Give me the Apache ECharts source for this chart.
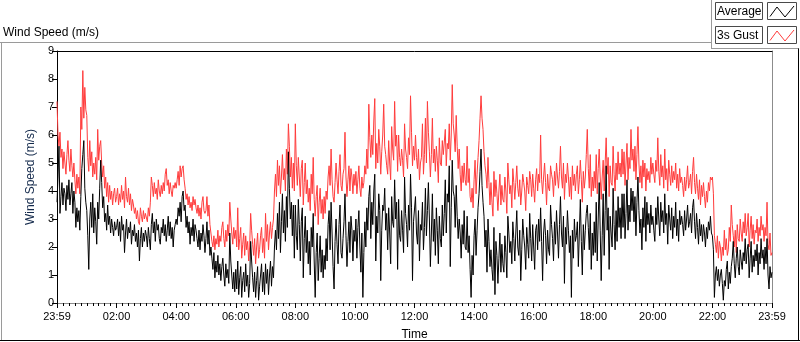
<!DOCTYPE html>
<html>
<head>
<meta charset="utf-8">
<script src="https://cdn.jsdelivr.net/npm/echarts@6/dist/echarts.min.js"></script>
<style>
  html, body { margin: 0; padding: 0; background: #fff; }
  #chart { width: 800px; height: 342px; }
</style>
</head>
<body>
<div id="chart"></div>
<script>
// one sample every 2 minutes, starting at 23:59 the day before
const sampleMinutes = 2

// average wind speed, m/s, 30 samples per hour
const avgSpeed = [
  3.6, 4.5, 5.6, 3.2, 3.8, 4.3, 3.5, 4.1, 3.9, 3.3, 4.2, 3.7, 4.4, 3.5, 3.9, 4.3, 3.2, 4.0, 3.6, 2.7, 3.4, 2.9, 3.3, 2.6, 3.8, 4.8, 5.3, 5.8, 4.1, 3.6,
  3.3, 2.4, 1.2, 3.0, 3.6, 2.7, 3.9, 2.5, 3.4, 2.9, 2.1, 3.6, 3.0, 4.1, 5.1, 4.3, 3.4, 3.8, 2.9, 3.2, 2.6, 3.5, 2.8, 3.1, 2.5, 3.0, 2.7, 2.4, 2.9, 2.6,
  2.7, 3.0, 2.4, 2.9, 2.2, 3.1, 2.6, 2.8, 1.8, 2.5, 3.0, 2.3, 2.7, 2.5, 2.9, 2.1, 2.6, 2.4, 2.8, 2.2, 2.5, 2.0, 2.6, 1.5, 2.3, 2.7, 2.0, 2.5, 2.2, 2.6,
  2.4, 2.0, 2.7, 2.3, 1.9, 2.8, 3.2, 2.5, 2.9, 2.2, 3.0, 2.6, 2.8, 2.3, 2.1, 2.7, 2.5, 3.0, 2.4, 2.8, 2.2, 2.6, 3.1, 2.4, 2.9, 2.3, 2.7, 2.0, 2.6, 2.8,
  3.0, 2.8, 3.4, 3.1, 3.6, 2.9, 3.8, 4.0, 3.3, 3.5, 2.7, 3.1, 2.5, 2.9, 2.1, 2.7, 2.4, 3.0, 2.2, 2.8, 2.6, 2.3, 2.0, 2.6, 1.9, 2.5, 2.2, 2.8, 2.4, 1.8,
  2.3, 2.9, 2.1, 2.6, 1.7, 2.0, 1.6, 1.2, 1.8, 0.9, 1.5, 1.1, 1.7, 1.0, 1.4, 0.8, 1.3, 1.6, 1.0, 0.6, 1.4, 0.9, 1.2, 0.7, 2.5, 1.5, 1.0, 0.5, 1.1, 0.4,
  1.2, 0.5, 1.5, 0.3, 0.9, 1.3, 0.2, 0.8, 1.1, 0.4, 1.4, 0.6, 1.0, 0.2, 0.7, 2.2, 1.5, 0.9, 0.4, 1.1, 0.2, 0.8, 1.3, 0.1, 0.6, 1.0, 1.4, 0.4, 1.1, 0.3,
  1.4, 0.7, 1.2, 0.3, 1.0, 1.5, 0.6, 1.3, 0.9, 2.0, 2.6, 1.9, 3.2, 2.3, 3.6, 1.8, 2.9, 3.9, 2.5, 3.3, 2.2, 3.8, 2.7, 5.4, 4.1, 3.0, 3.6, 2.4, 3.5, 1.6,
  3.5, 2.4, 1.9, 3.7, 2.8, 1.5, 2.9, 3.4, 0.9, 2.3, 3.1, 1.8, 2.6, 1.4, 2.2, 1.0, 2.7, 2.0, 3.2, 1.5, 0.2, 1.8, 2.5, 0.8, 1.6, 2.4, 1.1, 1.9, 0.9, 1.7,
  1.2, 2.3, 1.5, 2.8, 3.3, 1.9, 3.6, 2.5, 1.3, 0.5, 2.2, 3.0, 2.1, 1.4, 2.8, 3.5, 1.8, 1.6, 2.3, 2.9, 3.9, 2.4, 1.3, 2.2, 2.9, 1.8, 3.1, 2.6, 1.5, 2.6,
  2.2, 3.0, 1.6, 2.7, 3.3, 2.0, 1.1, 2.5, 0.2, 1.8, 2.9, 2.0, 3.4, 2.6, 3.8, 4.2, 2.3, 3.6, 2.8, 4.0, 4.6, 1.5, 3.1, 2.5, 3.9, 3.3, 0.8, 2.6, 3.5, 3.3,
  4.1, 2.6, 3.2, 1.9, 3.4, 2.5, 1.4, 3.8, 2.9, 2.7, 4.4, 3.0, 3.6, 1.2, 3.7, 2.4, 2.2, 3.3, 2.6, 1.8, 4.5, 3.2, 2.8, 2.0, 3.5, 2.6, 4.6, 3.4, 0.8, 2.9,
  2.9, 3.8, 2.5, 2.1, 3.3, 1.5, 2.8, 2.6, 3.6, 1.9, 2.7, 4.1, 2.4, 3.3, 4.3, 3.0, 1.3, 2.5, 3.9, 2.2, 3.0, 1.7, 3.4, 2.6, 1.4, 3.1, 2.3, 2.0, 3.5, 2.4,
  3.2, 4.4, 2.5, 3.9, 3.6, 4.9, 1.3, 3.4, 5.1, 4.0, 3.8, 2.7, 4.2, 3.1, 2.3, 3.0, 2.5, 1.6, 2.8, 2.1, 3.3, 2.0, 1.9, 3.1, 1.8, 2.4, 1.2, 0.2, 1.7, 1.0,
  2.4, 3.0, 1.7, 2.6, 3.4, 3.9, 4.7, 5.5, 4.2, 3.6, 3.1, 2.0, 2.6, 1.1, 3.0, 2.2, 1.3, 1.9, 1.2, 0.8, 2.7, 0.3, 2.2, 1.7, 0.7, 1.6, 2.5, 1.1, 2.1, 1.4,
  1.1, 2.4, 1.8, 0.9, 3.1, 2.5, 1.8, 2.2, 1.4, 2.9, 2.3, 1.5, 2.5, 3.3, 2.0, 1.7, 2.6, 0.8, 1.9, 3.0, 2.4, 2.0, 1.2, 2.7, 2.1, 1.6, 3.2, 2.3, 1.5, 2.8,
  2.0, 1.2, 2.6, 2.8, 1.9, 3.0, 2.2, 3.4, 2.2, 0.8, 2.5, 3.0, 2.4, 1.4, 2.6, 1.9, 1.7, 3.5, 2.8, 2.3, 1.5, 2.9, 2.1, 3.3, 2.5, 1.6, 2.8, 3.8, 2.5, 2.0,
  3.1, 0.7, 2.7, 2.1, 3.3, 2.6, 1.8, 2.4, 0.2, 2.6, 1.6, 3.0, 2.2, 2.4, 2.9, 1.3, 2.5, 3.7, 2.2, 1.0, 2.8, 1.9, 2.6, 3.2, 3.5, 2.7, 1.9, 3.2, 1.2, 2.5,
  1.7, 2.9, 1.8, 3.6, 1.5, 3.0, 4.3, 2.6, 0.8, 2.4, 3.9, 1.7, 3.3, 4.9, 2.6, 3.4, 1.2, 3.1, 2.5, 2.0, 4.1, 2.8, 1.9, 3.3, 2.2, 3.8, 2.7, 3.4, 2.3, 3.9,
  2.7, 3.9, 2.3, 3.2, 4.4, 2.6, 3.5, 2.9, 4.1, 3.3, 4.0, 2.9, 3.8, 2.4, 3.6, 4.5, 3.3, 2.5, 3.0, 1.9, 3.4, 2.7, 3.8, 2.2, 3.6, 2.8, 3.2, 2.5, 3.5, 2.8,
  3.1, 2.6, 2.2, 3.4, 2.8, 3.8, 3.0, 2.4, 3.6, 2.9, 3.3, 2.5, 3.9, 2.8, 3.2, 2.1, 3.5, 3.0, 2.6, 3.4, 2.3, 3.1, 2.7, 3.6, 2.4, 3.0, 2.2, 3.3, 2.8, 3.1,
  2.8, 2.4, 3.3, 2.6, 3.0, 3.5, 2.7, 2.9, 3.2, 2.5, 3.4, 3.7, 2.9, 2.3, 3.2, 2.7, 2.1, 3.0, 2.4, 2.8, 2.2, 2.8, 2.5, 2.0, 2.7, 2.3, 2.9, 2.6, 3.1, 2.5,
  2.4, 1.9, 0.2, 1.0, 1.3, 0.8, 1.2, 0.6, 1.0, 1.2, 0.7, 0.1, 0.8, 0.6, 1.2, 1.5, 0.5, 1.1, 0.7, 1.3, 1.6, 2.2, 1.4, 0.9, 1.6, 2.0, 1.3, 1.0, 1.9, 1.5,
  1.2, 1.8, 1.5, 2.3, 1.4, 1.9, 2.1, 0.9, 1.6, 2.2, 1.1, 1.7, 1.3, 1.9, 1.5, 2.1, 1.0, 1.8, 1.4, 2.3, 1.6, 1.9, 1.2, 2.0, 1.4, 2.3, 1.0, 0.5, 1.3, 0.9,
  1.1
]

// 3 second gust, m/s, 30 samples per hour
const gustSpeed = [
  7.2, 6.0, 5.6, 6.1, 5.2, 5.5, 4.8, 5.4, 5.0, 4.6, 5.3, 5.8, 5.1, 4.7, 5.5, 4.9, 4.5, 5.0, 4.4, 3.9, 4.6, 4.1, 4.5, 3.9, 7.0, 6.2, 8.3, 6.6, 7.7, 6.9,
  6.7, 5.2, 4.7, 5.8, 4.9, 5.4, 4.5, 5.0, 4.6, 5.2, 4.4, 6.2, 5.1, 5.6, 5.8, 5.0, 4.5, 4.9, 4.1, 4.5, 3.8, 4.3, 3.6, 4.2, 3.7, 4.0, 3.5, 3.9, 4.1, 3.6,
  3.8, 4.1, 3.5, 3.9, 3.6, 4.2, 3.7, 4.0, 3.4, 4.5, 3.8, 3.6, 4.1, 3.5, 3.9, 3.3, 3.7, 3.5, 3.2, 3.4, 3.0, 3.3, 2.9, 2.8, 3.4, 3.1, 2.9, 3.3, 3.0, 3.2,
  3.2, 2.9, 3.4, 3.1, 3.6, 4.5, 4.2, 3.8, 4.3, 3.9, 4.1, 3.7, 4.4, 4.0, 3.8, 4.2, 3.9, 4.3, 4.0, 4.6, 4.8, 4.2, 4.4, 3.9, 4.3, 4.0, 3.8, 4.2, 4.1, 4.3,
  4.1, 4.4, 4.7, 4.2, 4.9, 4.5, 4.8, 4.9, 4.4, 4.1, 3.7, 3.9, 3.5, 3.8, 3.4, 3.6, 3.3, 3.8, 3.5, 3.7, 3.4, 3.2, 3.5, 3.1, 3.4, 3.0, 3.6, 3.8, 3.3, 3.2,
  3.3, 3.8, 3.1, 3.5, 2.8, 2.5, 2.2, 2.0, 2.4, 1.9, 2.3, 2.1, 2.6, 2.0, 2.4, 2.2, 2.7, 2.9, 2.3, 2.0, 2.6, 2.2, 2.8, 2.4, 3.6, 3.0, 2.5, 2.1, 2.7, 2.3,
  2.6, 2.0, 3.4, 1.9, 2.3, 2.7, 1.6, 2.1, 2.5, 1.7, 2.4, 1.9, 2.2, 1.5, 2.0, 3.2, 2.6, 2.1, 1.7, 2.3, 1.4, 2.0, 2.5, 1.6, 1.9, 2.4, 2.7, 1.8, 2.3, 1.6,
  3.2, 2.2, 2.8, 1.9, 2.5, 2.9, 2.3, 2.7, 3.0, 4.0, 4.6, 3.8, 5.1, 4.2, 4.9, 3.9, 4.5, 5.3, 4.4, 4.8, 4.0, 5.5, 4.6, 6.4, 5.6, 4.5, 5.2, 4.1, 5.0, 4.0,
  6.4, 4.9, 4.2, 5.2, 4.5, 3.8, 4.8, 5.1, 3.5, 4.3, 5.0, 3.9, 4.4, 3.6, 4.1, 3.3, 4.6, 3.9, 5.2, 3.7, 3.1, 3.8, 4.2, 2.8, 3.6, 4.1, 3.2, 3.7, 3.0, 3.8,
  3.2, 4.0, 3.7, 4.5, 4.9, 4.2, 5.5, 4.4, 3.8, 3.6, 4.3, 5.0, 4.4, 3.9, 4.7, 5.3, 4.2, 4.0, 4.6, 4.8, 6.1, 4.5, 3.8, 4.4, 4.9, 4.0, 4.8, 4.5, 3.9, 4.6,
  4.2, 4.7, 3.9, 4.4, 4.9, 4.1, 3.8, 4.5, 4.1, 4.3, 4.9, 4.6, 5.5, 4.8, 7.1, 5.9, 5.2, 6.0, 5.3, 6.5, 7.3, 4.8, 5.7, 5.0, 6.2, 5.6, 4.6, 5.4, 6.0, 7.1,
  5.6, 5.3, 4.9, 4.6, 5.8, 5.0, 4.4, 6.3, 5.5, 5.1, 7.2, 5.6, 6.0, 4.7, 6.0, 5.2, 4.9, 5.5, 5.1, 4.5, 6.4, 5.5, 5.2, 4.8, 5.9, 5.3, 7.4, 6.1, 4.9, 5.6,
  5.1, 6.0, 5.2, 4.8, 5.5, 4.4, 5.0, 5.2, 6.4, 4.6, 5.3, 6.6, 5.0, 7.2, 6.1, 5.4, 4.5, 5.3, 6.6, 5.0, 5.5, 4.7, 5.6, 5.1, 4.3, 5.9, 5.0, 4.9, 5.8, 5.3,
  5.3, 6.2, 4.9, 5.7, 5.5, 6.4, 5.1, 6.0, 7.8, 6.4, 6.0, 5.4, 6.7, 5.6, 4.8, 5.5, 4.6, 4.0, 4.9, 4.3, 5.0, 4.4, 4.2, 5.6, 4.3, 4.8, 3.8, 3.6, 4.1, 3.4,
  4.4, 5.1, 3.9, 4.6, 5.2, 5.8, 6.6, 7.4, 6.6, 6.2, 5.4, 4.9, 4.6, 4.1, 5.2, 4.3, 3.5, 4.3, 3.6, 3.1, 4.7, 3.8, 4.4, 3.9, 3.3, 4.0, 4.6, 3.5, 4.2, 3.7,
  3.6, 4.5, 4.0, 3.2, 5.0, 4.4, 3.9, 4.2, 3.4, 4.8, 4.3, 3.7, 4.3, 4.9, 4.1, 3.8, 4.4, 3.5, 4.0, 4.6, 4.3, 4.0, 3.3, 4.5, 4.2, 3.9, 4.7, 4.4, 3.8, 4.6,
  4.1, 3.6, 4.4, 4.8, 4.0, 4.6, 4.3, 6.0, 4.4, 3.9, 4.5, 5.0, 4.3, 3.5, 4.6, 4.1, 4.0, 4.9, 4.6, 4.4, 3.8, 4.7, 4.2, 5.0, 4.5, 4.1, 4.7, 5.6, 4.5, 4.1,
  5.0, 3.7, 4.6, 4.3, 5.0, 4.5, 3.8, 4.5, 3.7, 4.9, 4.2, 4.6, 4.0, 4.6, 4.9, 3.9, 4.4, 5.1, 4.4, 3.6, 4.7, 4.1, 4.5, 5.3, 6.2, 4.8, 4.1, 5.3, 3.8, 4.5,
  4.0, 4.7, 4.1, 5.3, 3.9, 4.8, 5.5, 4.5, 3.7, 4.5, 5.1, 4.0, 5.0, 5.9, 4.6, 5.2, 3.8, 4.9, 4.3, 4.2, 5.6, 4.6, 4.0, 5.0, 4.4, 5.4, 4.6, 5.0, 4.5, 5.5,
  4.6, 5.4, 4.2, 5.0, 5.7, 4.4, 5.2, 4.8, 6.2, 5.1, 5.5, 4.7, 5.6, 4.4, 5.3, 6.3, 5.0, 4.3, 4.9, 4.1, 5.1, 4.5, 5.0, 4.0, 4.8, 4.4, 4.7, 4.3, 5.2, 4.6,
  5.0, 4.6, 4.3, 5.1, 4.7, 5.9, 4.7, 4.2, 5.3, 4.5, 4.9, 4.1, 5.5, 4.4, 4.8, 4.0, 5.1, 4.6, 4.2, 4.9, 4.3, 4.7, 4.4, 5.0, 4.1, 4.6, 4.0, 4.8, 4.3, 4.5,
  4.2, 3.8, 4.5, 4.0, 4.4, 4.9, 4.1, 4.3, 4.6, 3.9, 4.7, 5.2, 4.3, 3.9, 4.6, 4.1, 3.7, 4.4, 3.5, 4.2, 3.8, 4.3, 3.8, 3.4, 4.0, 3.6, 4.3, 4.0, 4.5, 4.4,
  4.5, 3.9, 2.4, 2.1, 1.8, 2.4, 1.6, 2.2, 2.0, 1.5, 2.0, 1.7, 2.6, 1.9, 2.3, 1.7, 1.9, 2.7, 2.2, 3.5, 2.8, 2.4, 2.0, 2.6, 1.8, 2.8, 2.3, 2.2, 3.0, 2.5,
  2.2, 2.9, 2.5, 3.2, 2.4, 2.7, 3.2, 2.0, 2.6, 3.1, 2.3, 2.8, 2.1, 2.6, 2.5, 3.0, 2.2, 2.7, 2.4, 3.1, 2.6, 2.8, 2.2, 2.7, 2.4, 3.6, 2.1, 1.9, 2.5, 1.7,
  1.8
]

// x tick labels, one every 120 minutes
const timeLabels = ['23:59', '02:00', '04:00', '06:00', '08:00', '10:00', '12:00',
  '14:00', '16:00', '18:00', '20:00', '22:00', '23:59']

const seriesNames = ['Average', '3s Gust']
const colorList = ['#000000', '#ff3c3c']

const font = 'Liberation Sans'

const chart = echarts.init(document.getElementById('chart'))

function toPoints(arr) {
  return arr.map((v, i) => [i * sampleMinutes, v])
}

// little legend boxes like the original panel
function legendItem(i, top) {
  return [
    {
      type: 'rect',
      shape: { x: 715.5, y: top + 0.5, width: 47, height: 17 },
      style: { fill: '#fff', stroke: '#4a4a4a', lineWidth: 1 },
    },
    {
      type: 'text',
      x: 717,
      y: top + 10,
      style: {
        text: seriesNames[i],
        font: '12px "' + font + '"',
        fill: '#000',
        verticalAlign: 'middle',
      },
    },
    {
      type: 'rect',
      shape: { x: 767.5, y: top + 0.5, width: 29, height: 17 },
      style: { fill: '#fff', stroke: '#4a4a4a', lineWidth: 1 },
    },
    {
      type: 'polyline',
      shape: {
        points: [[770, top + 14.5], [777, top + 5], [785, top + 15], [794, top + 4]],
      },
      style: { stroke: colorList[i], lineWidth: 1, fill: null },
    },
  ]
}

const frame = [
  // outer frame: gray top/left, black bottom/right
  { type: 'line', shape: { x1: 0, y1: 42.5, x2: 712, y2: 42.5 }, style: { stroke: '#9a9a9a' } },
  { type: 'line', shape: { x1: 711.5, y1: 0, x2: 711.5, y2: 49 }, style: { stroke: '#9a9a9a' } },
  { type: 'line', shape: { x1: 711.5, y1: 48.5, x2: 799, y2: 48.5 }, style: { stroke: '#9a9a9a' } },
  { type: 'line', shape: { x1: 1.5, y1: 42, x2: 1.5, y2: 341 }, style: { stroke: '#9a9a9a' } },
  { type: 'line', shape: { x1: 0, y1: 340.5, x2: 800, y2: 340.5 }, style: { stroke: '#000' } },
  { type: 'line', shape: { x1: 798.5, y1: 48.5, x2: 798.5, y2: 341 }, style: { stroke: '#000' } },
]

const option = {
  backgroundColor: '#fff',
  animation: false,
  textStyle: { fontFamily: font },
  title: {
    text: 'Wind Speed (m/s)',
    left: 3,
    top: 27,
    padding: 0,
    textStyle: { fontSize: 12, fontWeight: 'normal', color: '#000', fontFamily: font },
  },
  graphic: frame.concat(legendItem(0, 2), legendItem(1, 26)),
  grid: {
    left: 57,
    right: 28,
    top: 51,
    bottom: 39,
    // v6 would otherwise shrink the grid to keep the axis name inside
    outerBoundsMode: 'none',
    containLabel: false,
  },
  xAxis: [
    {
      type: 'value',
      min: 0,
      max: 1440,
      interval: 120,
      name: 'Time',
      nameLocation: 'middle',
      nameGap: 26,
      nameTextStyle: { color: '#000', fontSize: 12, fontFamily: font },
      axisLine: { show: true, onZero: false, lineStyle: { color: '#8c8c8c', width: 1 } },
      axisTick: { show: true, length: 5, lineStyle: { color: '#000' } },
      minorTick: { show: true, splitNumber: 10, length: 3, lineStyle: { color: '#000' } },
      axisLabel: {
        color: '#000',
        fontSize: 11,
        margin: 8,
        showMinLabel: true,
        showMaxLabel: true,
        formatter: (v) => timeLabels[Math.round(v / 120)],
      },
      splitLine: { show: false },
    },
    {
      // top border of the plot
      type: 'value',
      position: 'top',
      min: 0,
      max: 1440,
      axisLine: { show: true, onZero: false, lineStyle: { color: '#000' } },
      axisTick: { show: false },
      axisLabel: { show: false },
      splitLine: { show: false },
    },
  ],
  yAxis: [
    {
      type: 'value',
      min: 0,
      max: 9,
      interval: 1,
      name: 'Wind Speed (m/s)',
      nameLocation: 'middle',
      nameGap: 16,
      nameTextStyle: { color: '#13294b', fontSize: 12, fontFamily: font },
      axisLine: { show: true, onZero: false, lineStyle: { color: '#000' } },
      axisTick: { show: true, length: 5, lineStyle: { color: '#000' } },
      axisLabel: { color: '#000', fontSize: 11, margin: 3 },
      splitLine: { show: false },
    },
    {
      // right border of the plot
      type: 'value',
      position: 'right',
      min: 0,
      max: 9,
      axisLine: { show: true, onZero: false, lineStyle: { color: '#8c8c8c' } },
      axisTick: { show: false },
      axisLabel: { show: false },
      splitLine: { show: false },
    },
  ],
  series: [
    {
      name: seriesNames[1],
      type: 'line',
      data: toPoints(gustSpeed),
      showSymbol: false,
      symbol: 'none',
      sampling: null,
      lineStyle: { color: colorList[1], width: 1 },
      itemStyle: { color: colorList[1] },
      z: 2,
    },
    {
      name: seriesNames[0],
      type: 'line',
      data: toPoints(avgSpeed),
      showSymbol: false,
      symbol: 'none',
      sampling: null,
      lineStyle: { color: colorList[0], width: 1 },
      itemStyle: { color: colorList[0] },
      z: 3,
    },
  ],
}

chart.setOption(option)
</script>
</body>
</html>
